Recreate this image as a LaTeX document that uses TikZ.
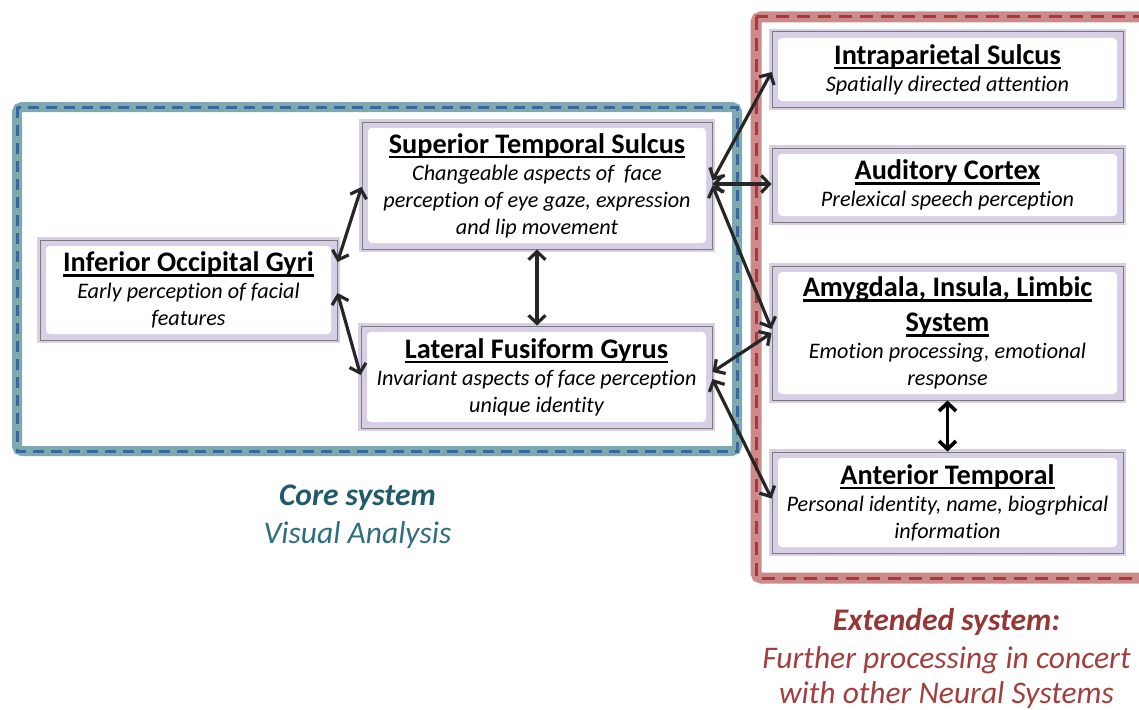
\documentclass[tikz,border=0pt]{standalone}
\usepackage{fontspec}
\setmainfont{Carlito}[Ligatures=NoCommon]
\usetikzlibrary{arrows.meta,calc}
\definecolor{lav}{HTML}{D8CFE6}
\definecolor{boxgray}{HTML}{7A7A7A}
\definecolor{tealband}{HTML}{7FA9B0}
\definecolor{tealdash}{HTML}{3A6898}
\definecolor{redband}{HTML}{CC8A8A}
\definecolor{reddash}{HTML}{A63A3A}
\definecolor{arrowc}{HTML}{262626}
\definecolor{coreA}{HTML}{215A68}
\definecolor{coreB}{HTML}{2F6E7E}
\definecolor{extA}{HTML}{953735}
\definecolor{extB}{HTML}{A03F3D}
\newcommand\ttl[1]{\setbox0\hbox{#1}\leavevmode\rlap{\vrule height -2.8pt depth 5pt width \wd0}\box0}
\newcommand\titlef{\fontsize{28.3}{27}\selectfont\bfseries}
\newcommand\subf{\fontsize{22.2}{27}\selectfont\itshape}
\tikzset{
  region/.style={draw=boxgray, line width=1pt, fill=lav, inner sep=0pt, align=center,
    font=\fontsize{22.2}{27}\selectfont,
    preaction={draw=lav, line width=6pt},
    path picture={\fill[white,rounded corners=4pt]
      ([shift={(6pt,6pt)}]path picture bounding box.south west) rectangle
      ([shift={(-6pt,-6pt)}]path picture bounding box.north east);}},
  link/.style={draw=arrowc, line width=3.2pt, {Straight Barb[length=8pt,width=17pt]}-{Straight Barb[length=8pt,width=17pt]}},
  lbl/.style={anchor=base, inner sep=0pt}
}
\begin{document}
\begin{tikzpicture}[x=1pt,y=-1pt]
\useasboundingbox (0,0) rectangle (1139,709);
% group bands
\draw[tealband, line width=10pt, rounded corners=5pt] (17,107) rectangle (737,451);
\draw[tealdash, line width=3pt, dash pattern=on 11pt off 7pt] (17,107) rectangle (737,451);
\draw[redband, line width=11pt, rounded corners=5pt] (756,17) rectangle (1146,578);
\draw[reddash, line width=3pt, dash pattern=on 13pt off 8pt] (756,17) rectangle (1146,578);
% nodes
\node[region, minimum width=297pt, minimum height=100pt] (IOG) at (188.5,290)
  {{\titlef\ttl{Inferior Occipital Gyri}}\\{\subf Early perception of facial}\\{\subf features}};
\node[region, minimum width=350pt, minimum height=127pt] (STS) at (537,185.5)
  {{\titlef\ttl{Superior Temporal Sulcus}}\\{\subf Changeable aspects of~ face}\\{\subf perception of eye gaze, expression}\\{\subf and lip movement}};
\node[region, minimum width=351pt, minimum height=102pt] (LFG) at (536.5,377)
  {{\titlef\ttl{Lateral Fusiform Gyrus}}\\{\subf Invariant aspects of face perception}\\{\subf unique identity}};
\node[region, minimum width=351pt, minimum height=75pt] (IPS) at (947.5,69.5)
  {{\titlef\ttl{Intraparietal Sulcus}}\\{\subf Spatially directed attention}};
\node[region, minimum width=351pt, minimum height=74pt] (AC) at (947.5,185)
  {{\titlef\ttl{Auditory Cortex}}\\{\subf Prelexical speech perception}};
\node[region, minimum width=351pt, minimum height=134pt] (AIL) at (947.5,333)
  {{\titlef\ttl{Amygdala, Insula, Limbic}}\\[8pt]{\titlef\ttl{System}}\\{\subf Emotion processing, emotional}\\{\subf response}};
\node[region, minimum width=351pt, minimum height=101pt] (AT) at (947.5,502.5)
  {{\titlef\ttl{Anterior Temporal}}\\{\subf Personal identity, name, biogrphical}\\{\subf information}};
% connectors
\draw[link] ([yshift=28pt]IOG.east) -- ([yshift=-1.5pt]STS.west);
\draw[link] ([yshift=-3pt]IOG.east) -- ([yshift=2pt]LFG.west);
\draw[link] (STS.south) -- (STS.south |- LFG.north);
\draw[link] ([yshift=5pt]STS.east) -- ([yshift=-2.5pt]IPS.west);
\draw[link] ([yshift=1.5pt]STS.east) -- ([yshift=1pt]AC.west);
\draw[link] ([yshift=0pt]STS.east) -- ([yshift=4pt]AIL.west);
\draw[link] ([yshift=5pt]LFG.east) -- ([yshift=0pt]AIL.west);
\draw[link] ([yshift=-2pt]LFG.east) -- ([yshift=4pt]AT.west);
\draw[link, draw=black, line width=3.6pt] (AIL.south) -- (AT.north);
% labels
\node[lbl, text=coreA, font=\fontsize{31.5}{38}\selectfont\bfseries\itshape] (cs) at (357.5,505) {Core system};
\node[lbl, text=coreB, font=\fontsize{31.5}{38}\selectfont\itshape] (va) at (357.5,543) {Visual Analysis};
\node[lbl, text=extA, font=\fontsize{31.5}{38}\selectfont\bfseries\itshape] (es) at (946.5,630) {Extended system:};
\node[lbl, text=extB, font=\fontsize{31.5}{38}\selectfont\itshape] (fp) at (946.5,668) {Further processing in concert};
\node[lbl, text=extB, font=\fontsize{31.5}{38}\selectfont\itshape] (wo) at (946.5,703) {with other Neural Systems};
\end{tikzpicture}
\end{document}
